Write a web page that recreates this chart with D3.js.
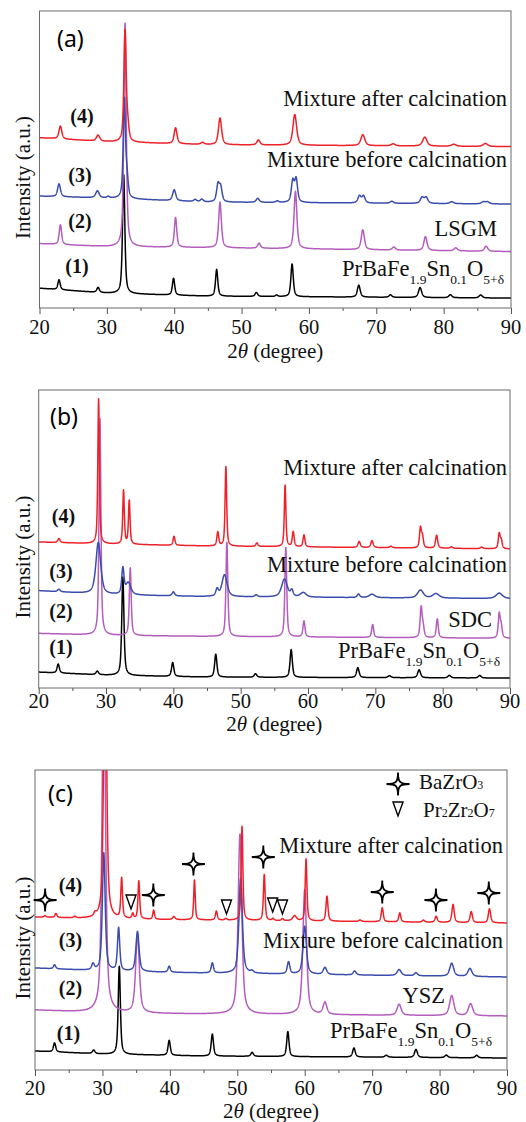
<!DOCTYPE html>
<html><head><meta charset="utf-8">
<script src="https://cdn.jsdelivr.net/npm/d3@7"></script>
<style>body{margin:0;background:#fff}svg{display:block}</style>
</head><body>
<svg id="chart" width="526" height="1122"></svg>
<script>
// ---------------- DATA (2θ in degrees, intensity in a.u.) ----------------
const xDomain = [20, 90];
const majorTicks = [20, 30, 40, 50, 60, 70, 80, 90];
const minorTicks = [25, 35, 45, 55, 65, 75, 85];
const seriesLabels = ["(1)", "(2)", "(3)", "(4)"];
const seriesColors = ["#000000", "#b45dbe", "#3a4cad", "#ee2128"];

// background points [2θ, intensity] and peaks [2θ, height, FWHM]
// ---- panel (a): PBFS / LSGM ----
const aBase1 = [[20,20],[30,15],[45,12],[90,10]];
const aPeaks1 = [[22.9,10,0.4],[28.7,5,0.45],[32.5,120,0.4],[39.9,17,0.4],[46.3,27,0.4],[52.2,4,0.45],[55.2,1.5,0.4],[57.5,33,0.42],[67.4,12,0.5],[72.1,2.5,0.5],[76.5,10,0.55],[81.0,3,0.55],[85.5,3,0.55]];
const aBase2 = [[20,65],[30,62],[45,61],[90,57]];
const aPeaks2 = [[23.1,20,0.42],[32.7,226,0.42],[40.2,30,0.42],[46.8,46,0.48],[52.6,5,0.5],[58.0,58,0.5],[68.0,20,0.55],[72.6,3,0.55],[77.3,14,0.55],[81.8,3,0.6],[86.3,5,0.6]];
const aBase3 = [[20,113],[30,111],[45,107],[90,105]];
const aPeaks3 = [[22.9,13,0.5],[28.6,7,0.6],[30.2,1.5,0.4],[32.6,100,0.4],[33.0,18,0.4],[40.0,11,0.55],[43.1,2,0.5],[44.1,2.5,0.5],[46.5,17,0.5],[46.9,14,0.5],[52.4,4,0.55],[55.3,1.5,0.5],[57.6,21,0.5],[58.1,23,0.5],[67.5,7,0.55],[68.1,7,0.55],[72.3,2,0.55],[76.8,6,0.6],[77.4,6,0.6],[81.2,2,0.65],[85.9,2,0.65],[86.5,2,0.65]];
const aBase4 = [[20,172],[30,168],[45,165],[90,163]];
const aPeaks4 = [[23.1,13,0.5],[28.7,6,0.6],[32.7,112,0.4],[33.1,14,0.4],[40.2,16,0.5],[44.2,2,0.6],[46.8,27,0.55],[52.5,5,0.55],[57.9,31,0.65],[68.0,11,0.7],[72.5,2,0.7],[77.2,9,0.75],[81.5,2,0.8],[86.2,3,0.8]];

// ---- panel (b): PBFS / SDC ----
const bBase1 = [[20,16],[30,13],[45,11],[90,10]];
const bPeaks1 = [[22.9,9,0.4],[28.7,3.5,0.45],[32.5,99,0.38],[39.9,14,0.4],[46.3,23,0.4],[52.2,3.5,0.45],[57.5,28,0.4],[67.4,10,0.45],[72.1,2,0.5],[76.5,8,0.5],[81.0,2.5,0.5],[85.5,2.5,0.5]];
const bBase2 = [[20,55],[30,53],[45,52],[90,50]];
const bPeaks2 = [[29.1,218,0.33],[33.6,68,0.33],[47.95,95,0.33],[56.7,90,0.33],[59.4,16,0.35],[69.6,13,0.35],[76.8,30,0.35],[77.1,10,0.35],[79.2,19,0.35],[88.4,24,0.35],[88.7,11,0.35]];
const bBase3 = [[20,98],[30,94],[45,92],[90,90]];
const bPeaks3 = [[23.0,2.5,0.45],[28.85,52,0.85],[32.5,26,0.4],[33.3,12,0.9],[40.0,4,0.45],[46.5,7,0.45],[47.6,22,0.9],[52.3,2,0.45],[56.5,18,1.0],[57.6,6,0.45],[59.3,4.5,1.0],[67.5,3.5,0.45],[69.5,3.5,1.0],[76.7,8,1.0],[79.0,4.5,1.1],[88.4,5.5,1.1]];
const bBase4 = [[20,147],[30,145],[45,143],[90,140]];
const bPeaks4 = [[23.0,4,0.4],[28.9,146,0.28],[32.6,54,0.28],[33.45,44,0.28],[40.1,9,0.33],[46.6,14,0.33],[47.8,80,0.28],[52.4,3.5,0.35],[56.6,62,0.28],[57.8,15,0.33],[59.4,12,0.33],[67.6,6,0.4],[69.5,7,0.4],[72.3,1.5,0.45],[76.7,20,0.33],[77.0,11,0.33],[79.1,13,0.38],[81.3,1.5,0.45],[85.8,1.5,0.45],[88.4,15,0.33],[88.7,8,0.33]];

// ---- panel (c): PBFS / YSZ ----
const cBase1 = [[20,19],[30,16],[45,14],[90,12]];
const cPeaks1 = [[22.9,9,0.4],[28.7,3.5,0.45],[32.5,88,0.38],[39.9,15,0.4],[46.3,22,0.4],[52.2,4,0.45],[57.5,25,0.4],[67.3,9,0.45],[72.1,2,0.5],[76.5,8,0.5],[81.0,2.5,0.5],[85.5,2.5,0.5]];
const cBase2 = [[20,60],[30,57],[45,56],[90,54]];
const cPeaks2 = [[30.2,350,0.6],[35.2,78,0.65],[50.4,180,0.65],[60.0,125,0.65],[63.0,12,0.65],[74.0,11,0.7],[81.8,20,0.75],[84.6,12,0.75]];
const cBase3 = [[20,102],[30,99],[45,97],[90,93]];
const cPeaks3 = [[22.9,4,0.4],[28.6,6,0.45],[30.2,118,0.5],[32.4,43,0.4],[35.2,40,0.55],[39.9,6,0.4],[46.3,10,0.4],[50.5,95,0.6],[52.2,2,0.45],[57.6,12,0.45],[60.0,48,0.6],[63.0,7,0.6],[67.4,4,0.5],[74.0,6,0.7],[76.5,3,0.55],[81.8,13,0.7],[84.5,8,0.7]];
const cBase4 = [[20,153],[30,151],[45,150],[90,147]];
const cPeaks4 = [[21.5,1.5,0.35],[23.1,4,0.35],[25.9,1.5,0.35],[28.9,3,0.4],[30.4,300,0.5],[32.85,40,0.3],[34.5,5,0.3],[35.4,38,0.3],[37.6,9,0.3],[40.6,3,0.45],[43.65,40,0.27],[46.9,9,0.33],[48.3,1.5,0.35],[50.7,94,0.3],[54.0,46,0.3],[55.3,2,0.35],[56.7,2,0.35],[58.5,5,0.65],[60.2,62,0.3],[63.3,25,0.35],[68.2,1.5,0.45],[71.5,14,0.35],[74.1,9,0.35],[77.6,2,0.45],[79.5,6,0.4],[82.0,18,0.4],[84.7,11,0.4],[87.4,14,0.4]];
// phase markers in (c): [2θ, intensity level]
const bazro3Marks = [[21.5,170],[37.55,175],[43.5,206],[53.86,213],[71.5,178],[79.46,170],[87.3,177]];
const pr2zr2o7Marks = [[34.24,168],[48.4,163],[55.25,165],[56.7,163]];

// ---------------- DRAWING ----------------
const svg = d3.select("#chart");
const SERIF = "Liberation Serif, Times New Roman, serif";
const SANS = "Noto Sans, Open Sans, sans-serif";

function pattern(base, peaks) {
  const bg = d3.scaleLinear().domain(base.map(d => d[0])).range(base.map(d => d[1]));
  return d3.range(xDomain[0], xDomain[1] + 1e-9, 0.02).map(x => {
    let y = bg(x);
    for (const [p, h, w] of peaks) {
      const t = (x - p) / (w / 2);
      y += h * (0.6 / (1 + t * t) + 0.4 * Math.exp(-Math.LN2 * t * t));
    }
    return [x, y];
  });
}

function starPath(r) {
  const c = r * 0.16;
  return `M0,${-r}C0,${-c} ${c},0 ${r},0C${c},0 0,${c} 0,${r}C0,${c} ${-c},0 ${-r},0C${-c},0 0,${-c} 0,${-r}Z`;
}
function triPath(w, h) {
  return `M${-w/2},${-h/2}L${w/2},${-h/2}L0,${h/2}Z`;
}

function addPBFS(g, x, y) {
  const t = g.append("text").attr("x", x).attr("y", y)
    .attr("font-family", SERIF).attr("font-size", 22.5).attr("fill", "#111");
  t.append("tspan").text("PrBaFe");
  t.append("tspan").attr("font-size", 13.5).attr("dy", 8).text("1.9");
  t.append("tspan").attr("dy", -8).text("Sn");
  t.append("tspan").attr("font-size", 13.5).attr("dy", 8).text("0.1");
  t.append("tspan").attr("dy", -8).text("O");
  t.append("tspan").attr("font-size", 13.5).attr("dy", 8).text("5+δ");
}

const panels = [
  {
    key: "a", letter: "(a)", box: {l: 39.5, r: 511, t: 11, b: 308},
    series: [[aBase1, aPeaks1], [aBase2, aPeaks2], [aBase3, aPeaks3], [aBase4, aPeaks4]],
    letterPos: [57, 47],
    numPos: [[77, 273], [80, 228], [80, 182], [82, 123]],
    afterPos: [507, 106], beforePos: [507, 167],
    refName: "LSGM", refPos: [497, 236], pbfsPos: [342, 276],
    tickBase: 334, titleBase: 358
  },
  {
    key: "b", letter: "(b)", box: {l: 38.7, r: 510, t: 390, b: 688},
    series: [[bBase1, bPeaks1], [bBase2, bPeaks2], [bBase3, bPeaks3], [bBase4, bPeaks4]],
    letterPos: [50, 425],
    numPos: [[61, 654], [61, 618], [61, 578], [63.5, 523]],
    afterPos: [507, 475], beforePos: [507, 572],
    refName: "SDC", refPos: [492, 627], pbfsPos: [338, 658],
    tickBase: 708, titleBase: 731
  },
  {
    key: "c", letter: "(c)", box: {l: 35, r: 507, t: 770, b: 1070},
    series: [[cBase1, cPeaks1], [cBase2, cPeaks2], [cBase3, cPeaks3], [cBase4, cPeaks4]],
    letterPos: [48, 802],
    numPos: [[68.5, 1040], [70.5, 995], [70.5, 947], [70.5, 892]],
    afterPos: [503, 853], beforePos: [503, 948],
    refName: "YSZ", refPos: [445, 1003], pbfsPos: [330, 1038],
    tickBase: 1095, titleBase: 1118
  }
];

panels.forEach(P => {
  const {l, r, t, b} = P.box;
  const x = d3.scaleLinear().domain(xDomain).range([l, r]);
  const y = d3.scaleLinear().domain([0, 300]).range([b, t]);
  const g = svg.append("g");

  g.append("clipPath").attr("id", "clip-" + P.key)
    .append("rect").attr("x", l).attr("y", t).attr("width", r - l).attr("height", b - t);

  const line = d3.line().x(d => x(d[0])).y(d => y(d[1]));
  const plot = g.append("g").attr("clip-path", `url(#clip-${P.key})`);
  P.series.forEach(([base, peaks], i) => {
    plot.append("path").datum(pattern(base, peaks))
      .attr("d", line).attr("fill", "none")
      .attr("stroke", seriesColors[i]).attr("stroke-width", 1.5)
      .attr("stroke-linejoin", "round");
  });

  // frame
  g.append("rect").attr("x", l).attr("y", t).attr("width", r - l).attr("height", b - t)
    .attr("fill", "none").attr("stroke", "#6b6b6b").attr("stroke-width", 1);

  // bottom axis (ticks outward)
  const ax = g.append("g").attr("transform", `translate(0,${b})`)
    .call(d3.axisBottom(x).tickValues(majorTicks).tickSize(6).tickFormat(""));
  ax.select(".domain").remove();
  ax.selectAll("line").attr("stroke", "#555");
  const axm = g.append("g").attr("transform", `translate(0,${b})`)
    .call(d3.axisBottom(x).tickValues(minorTicks).tickSize(3).tickFormat(""));
  axm.select(".domain").remove();
  axm.selectAll("line").attr("stroke", "#555");

  g.selectAll(null).data(majorTicks).enter().append("text")
    .attr("x", d => x(d)).attr("y", P.tickBase)
    .attr("text-anchor", "middle").attr("font-family", SERIF).attr("font-size", 20.5)
    .attr("fill", "#111").text(d => d);

  const title = g.append("text").attr("x", (l + r) / 2).attr("y", P.titleBase)
    .attr("text-anchor", "middle").attr("font-family", SERIF).attr("font-size", 21).attr("fill", "#111");
  title.append("tspan").text("2");
  title.append("tspan").attr("font-style", "italic").text("θ");
  title.append("tspan").text(" (degree)");

  g.append("text").attr("transform", `translate(30,${(t + b) / 2 + 18}) rotate(-90)`)
    .attr("text-anchor", "middle").attr("font-family", SERIF).attr("font-size", 21)
    .attr("fill", "#111").text("Intensity (a.u.)");

  g.append("text").attr("x", P.letterPos[0]).attr("y", P.letterPos[1])
    .attr("font-family", SANS).attr("font-size", 23).attr("fill", "#000").text(P.letter);

  seriesLabels.forEach((s, i) => {
    g.append("text").attr("x", P.numPos[i][0]).attr("y", P.numPos[i][1])
      .attr("text-anchor", "middle").attr("font-family", SERIF).attr("font-weight", "bold")
      .attr("font-size", 20).attr("fill", "#111").text(s);
  });

  g.append("text").attr("x", P.afterPos[0]).attr("y", P.afterPos[1]).attr("text-anchor", "end")
    .attr("font-family", SERIF).attr("font-size", 22.5).attr("fill", "#111").text("Mixture after calcination");
  g.append("text").attr("x", P.beforePos[0]).attr("y", P.beforePos[1]).attr("text-anchor", "end")
    .attr("font-family", SERIF).attr("font-size", 22.5).attr("fill", "#111").text("Mixture before calcination");
  g.append("text").attr("x", P.refPos[0]).attr("y", P.refPos[1]).attr("text-anchor", "end")
    .attr("font-family", SERIF).attr("font-size", 22.5).attr("fill", "#111").text(P.refName);
  addPBFS(g, P.pbfsPos[0], P.pbfsPos[1]);

  if (P.key === "c") {
    g.selectAll(null).data(bazro3Marks).enter().append("path")
      .attr("transform", d => `translate(${x(d[0])},${y(d[1])})`)
      .attr("d", starPath(11.5)).attr("fill", "#fff").attr("stroke", "#000").attr("stroke-width", 1.8);
    g.selectAll(null).data(pr2zr2o7Marks).enter().append("path")
      .attr("transform", d => `translate(${x(d[0])},${y(d[1])})`)
      .attr("d", triPath(10, 14)).attr("fill", "#fff").attr("stroke", "#000").attr("stroke-width", 1.4);

    // legend
    g.append("path").attr("transform", "translate(398,784)").attr("d", starPath(11.5))
      .attr("fill", "#fff").attr("stroke", "#000").attr("stroke-width", 1.8);
    g.append("path").attr("transform", "translate(398,809)").attr("d", triPath(10, 14))
      .attr("fill", "#fff").attr("stroke", "#000").attr("stroke-width", 1.4);
    const l1 = g.append("text").attr("x", 419).attr("y", 789).attr("font-family", SERIF)
      .attr("font-size", 21).attr("fill", "#111");
    l1.append("tspan").text("BaZrO");
    l1.append("tspan").attr("font-size", 12).text("3");
    const l2 = g.append("text").attr("x", 423).attr("y", 817).attr("font-family", SERIF)
      .attr("font-size", 21).attr("fill", "#111");
    l2.append("tspan").text("Pr");
    l2.append("tspan").attr("font-size", 12).text("2");
    l2.append("tspan").text("Zr");
    l2.append("tspan").attr("font-size", 12).text("2");
    l2.append("tspan").text("O");
    l2.append("tspan").attr("font-size", 12).text("7");
  }
});
</script>
</body></html>
